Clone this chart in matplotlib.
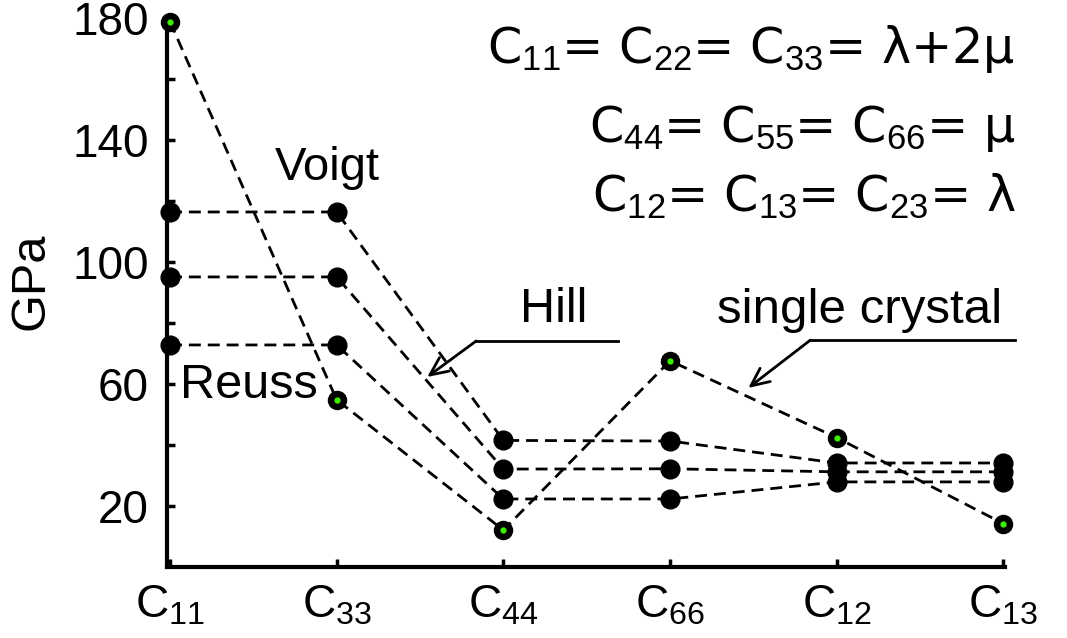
import matplotlib
matplotlib.use("Agg")
import matplotlib.pyplot as plt

plt.rcParams['font.family'] = ['Liberation Sans', 'DejaVu Sans']
plt.rcParams['mathtext.fontset'] = 'custom'
plt.rcParams['mathtext.rm'] = 'Liberation Sans'
plt.rcParams['mathtext.it'] = 'Liberation Sans:italic'

# elastic constants (GPa)
constants = ['C$_{11}$', 'C$_{33}$', 'C$_{44}$', 'C$_{66}$', 'C$_{12}$', 'C$_{13}$']
voigt = [116.4, 116.4, 41.5, 41.3, 34.1, 34.1]
hill = [95.1, 95.1, 32.1, 32.2, 31.2, 31.2]
reuss = [72.8, 72.8, 22.3, 22.3, 27.9, 27.9]
crystal = [178.8, 54.8, 12.1, 67.6, 42.4, 14.2]

x = list(range(len(constants)))
dash = (0, (4.3, 2.5))

fig = plt.figure(figsize=(10.67, 6.38), dpi=100)
ax = fig.add_axes([0.1565, 0.1113, 0.7855, 0.8605])

for vals in (voigt, hill, reuss):
    ax.plot(x, vals, color='black', lw=2, linestyle=dash, marker='o',
            markersize=13.5, markerfacecolor='black', markeredgecolor='black',
            clip_on=False, zorder=3)

ax.plot(x, crystal, color='black', lw=2, linestyle=dash, marker='o',
        markersize=13, markerfacecolor='black', markeredgecolor='black',
        clip_on=False, zorder=3)
ax.plot(x, crystal, linestyle='none', marker='o', markersize=3.5,
        markerfacecolor='#3ef000', markeredgecolor='#3ef000',
        clip_on=False, zorder=4)

ax.set_xlim(-0.018, 5.01)
ax.set_ylim(0, 180)

ax.set_xticks(x)
ax.set_xticklabels(constants)
ax.set_yticks([20, 60, 100, 140, 180])
ax.set_yticks([40, 80, 120, 160], minor=True)

for side in ('top', 'right'):
    ax.spines[side].set_visible(False)
for side in ('left', 'bottom'):
    ax.spines[side].set_linewidth(3)

ax.tick_params(axis='both', which='both', direction='in', length=6, width=2.5)
ax.tick_params(axis='y', labelsize=33, pad=13)
ax.tick_params(axis='x', labelsize=33, pad=12)

ax.set_ylabel('GPa', fontsize=35)
ax.yaxis.set_label_coords(-0.135, 0.52)

# model labels
ax.text(0.63, 126.9, 'Voigt', fontsize=34, va='baseline', ha='left')
ax.text(0.06, 55.4, 'Reuss', fontsize=35, va='baseline', ha='left')
ax.text(2.10, 80.3, 'Hill', fontsize=35, va='baseline', ha='left')
ax.text(3.283, 80.0, 'single crystal', fontsize=35.5, va='baseline', ha='left')

# leader lines with arrows
ax.plot([1.837, 2.689], [74.1, 74.1], color='black', lw=2, clip_on=False)
ax.annotate('', xy=(1.543, 62.3), xytext=(1.837, 74.1),
            arrowprops=dict(arrowstyle='->,head_length=0.65,head_width=0.3',
                            lw=2, color='black', mutation_scale=20,
                            shrinkA=0, shrinkB=0))
ax.plot([3.842, 5.072], [74.4, 74.4], color='black', lw=2, clip_on=False)
ax.annotate('', xy=(3.469, 58.7), xytext=(3.842, 74.4),
            arrowprops=dict(arrowstyle='->,head_length=0.65,head_width=0.3',
                            lw=2, color='black', mutation_scale=20,
                            shrinkA=0, shrinkB=0))

# isotropic relations
relations = ['C$_{11}$= C$_{22}$= C$_{33}$= λ+2μ',
             'C$_{44}$= C$_{55}$= C$_{66}$= μ',
             'C$_{12}$= C$_{13}$= C$_{23}$= λ']
rel_y = [165.3, 139.4, 116.6]
for txt, yy in zip(relations, rel_y):
    ax.text(5.072, yy, txt, fontsize=35.5, ha='right', va='baseline',
            family=['DejaVu Sans'], clip_on=False)

fig.savefig('out.png', dpi=100)
